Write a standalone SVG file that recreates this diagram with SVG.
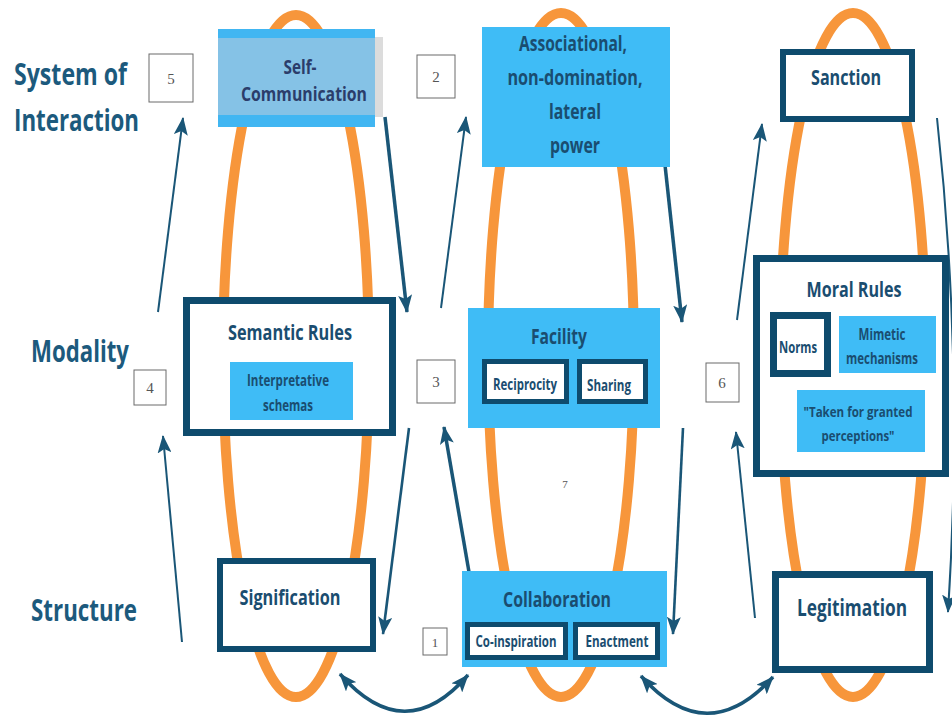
<svg xmlns="http://www.w3.org/2000/svg" width="952" height="718" viewBox="0 0 952 718">
<defs>
<marker id="ah" viewBox="0 0 18 14" refX="17" refY="7" markerWidth="18" markerHeight="14" markerUnits="userSpaceOnUse" orient="auto-start-reverse">
<path d="M0,0 L18,7 L0,14 L4,7 z" fill="#1a5677"/>
</marker>
<style>
.loop{fill:none;stroke:#f7963b;stroke-width:10}
.con{fill:none;stroke:#1a5677;stroke-width:2}
.thk{stroke-width:3.5}
.med{stroke-width:2.6}
.lbl{font-family:"Open Sans","Liberation Sans",sans-serif;font-weight:700;font-size:30px;fill:#1c5a7d}
.t{font-family:"Open Sans","Liberation Sans",sans-serif;font-weight:700;fill:#1a4d70;text-anchor:middle}
.t22{font-size:22px}
.t20{font-size:20px}
.t16{font-size:16px}
.t15{font-size:15px}
.blue{fill:#3fbcf6}
.wbox{fill:#fff;stroke:#0e4b6d}
.num{fill:#fff;stroke:#6a6a6a;stroke-width:1}
.nt{font-family:"Liberation Serif",serif;font-size:15px;fill:#555;text-anchor:middle}
</style>
</defs>
<rect width="952" height="718" fill="#fff"/>

<g id="loops">
<ellipse class="loop" cx="296" cy="356" rx="73" ry="341"/>
<ellipse class="loop" cx="561" cy="355" rx="73" ry="342"/>
<ellipse class="loop" cx="853" cy="355" rx="73" ry="342"/>
</g>

<g id="row-labels">
<text class="lbl" x="14" y="85" textLength="113" lengthAdjust="spacingAndGlyphs">System of</text>
<text class="lbl" x="14" y="131" textLength="125" lengthAdjust="spacingAndGlyphs">Interaction</text>
<text class="lbl" x="31" y="362" textLength="98" lengthAdjust="spacingAndGlyphs">Modality</text>
<text class="lbl" x="31" y="621" textLength="106" lengthAdjust="spacingAndGlyphs">Structure</text>
</g>

<g id="connectors">
<path class="con" d="M182,642 L163,436" marker-end="url(#ah)"/>
<path class="con" d="M158,312 L183,118" marker-end="url(#ah)"/>
<path class="con thk" d="M385,117 L407,312" marker-end="url(#ah)"/>
<path class="con" d="M441,308 L466,117" marker-end="url(#ah)"/>
<path class="con med" d="M409,428 L383,634" marker-end="url(#ah)"/>
<path class="con thk" d="M469,572 L444,427" marker-end="url(#ah)"/>
<path class="con thk" d="M661,128 L682,322" marker-end="url(#ah)"/>
<path class="con" d="M737,320 L762,124" marker-end="url(#ah)"/>
<path class="con med" d="M683,428 L673,634" marker-end="url(#ah)"/>
<path class="con" d="M755,618 L736,432" marker-end="url(#ah)"/>
<path class="con" d="M937,118 Q964,365 948,612" marker-end="url(#ah)"/>
<path class="con thk" d="M340,674 Q405,748 468,675" marker-start="url(#ah)" marker-end="url(#ah)"/>
<path class="con thk" d="M641,676 Q707,750 773,677" marker-start="url(#ah)" marker-end="url(#ah)"/>
</g>

<g id="num5"><rect class="num" x="149" y="54" width="44" height="48"/><text class="nt" x="171" y="84">5</text></g>
<g id="num2"><rect class="num" x="417" y="55" width="38" height="43"/><text class="nt" x="436" y="82">2</text></g>
<g id="num4"><rect class="num" x="134" y="370" width="32" height="35"/><text class="nt" x="150" y="393">4</text></g>
<g id="num3"><rect class="num" x="417" y="360" width="38" height="43"/><text class="nt" x="436" y="387">3</text></g>
<g id="num6"><rect class="num" x="706" y="363" width="33" height="39"/><text class="nt" x="722" y="388">6</text></g>
<g id="num1"><rect class="num" x="423" y="628" width="24" height="27"/><text class="nt" x="435" y="647" style="font-size:13px">1</text></g>
<g id="num7"><text class="nt" x="565" y="488" style="font-size:11px">7</text></g>

<g id="self-communication">
<rect x="375" y="37" width="8" height="80" fill="#dcdcdc"/>
<rect x="218" y="29" width="157" height="98" fill="#41b6f2"/>
<rect x="218" y="38" width="157" height="77" fill="#85c2e6"/>
<text class="t t20" x="300" y="74" textLength="33" lengthAdjust="spacingAndGlyphs" style="fill:#2b3d6b">Self-</text>
<text class="t t20" x="304" y="101" textLength="126" lengthAdjust="spacingAndGlyphs" style="fill:#2b3d6b">Communication</text>
</g>

<g id="associational">
<rect class="blue" x="482" y="27" width="188" height="140"/>
<text class="t t22" x="573" y="51" textLength="108" lengthAdjust="spacingAndGlyphs">Associational,</text>
<text class="t t22" x="575" y="85" textLength="135" lengthAdjust="spacingAndGlyphs">non-domination,</text>
<text class="t t22" x="575" y="119" textLength="52" lengthAdjust="spacingAndGlyphs">lateral</text>
<text class="t t22" x="575" y="153" textLength="50" lengthAdjust="spacingAndGlyphs">power</text>
</g>

<g id="sanction">
<rect class="wbox" x="783" y="52" width="129" height="67" stroke-width="6"/>
<text class="t t22" x="846" y="85" textLength="70" lengthAdjust="spacingAndGlyphs">Sanction</text>
</g>

<g id="semantic-rules">
<rect class="wbox" x="186.5" y="300.5" width="206" height="132" stroke-width="7"/>
<text class="t t22" x="290" y="340" textLength="124" lengthAdjust="spacingAndGlyphs">Semantic Rules</text>
<rect class="blue" x="230" y="362" width="123" height="58"/>
<text class="t t16" x="288" y="386" textLength="82" lengthAdjust="spacingAndGlyphs">Interpretative</text>
<text class="t t16" x="288" y="411" textLength="50" lengthAdjust="spacingAndGlyphs">schemas</text>
</g>

<g id="facility">
<rect class="blue" x="468" y="308" width="192" height="120"/>
<text class="t t22" x="559" y="344" textLength="56" lengthAdjust="spacingAndGlyphs">Facility</text>
<rect class="wbox" x="484.5" y="361.5" width="82" height="40" stroke-width="5"/>
<text class="t t16" x="525" y="390" textLength="64" lengthAdjust="spacingAndGlyphs">Reciprocity</text>
<rect class="wbox" x="579.5" y="361.5" width="66" height="40" stroke-width="5"/>
<text class="t t16" x="609" y="391" textLength="44" lengthAdjust="spacingAndGlyphs">Sharing</text>
</g>

<g id="moral-rules">
<rect class="wbox" x="756.5" y="258.5" width="189" height="215" stroke-width="7"/>
<text class="t t22" x="854" y="297" textLength="95" lengthAdjust="spacingAndGlyphs">Moral Rules</text>
<rect class="wbox" x="773.5" y="315.5" width="54" height="58" stroke-width="7"/>
<text class="t t16" x="798" y="353" textLength="38" lengthAdjust="spacingAndGlyphs">Norms</text>
<rect class="blue" x="839" y="316" width="97" height="57"/>
<text class="t t16" x="882" y="340" textLength="47" lengthAdjust="spacingAndGlyphs">Mimetic</text>
<text class="t t16" x="882" y="364" textLength="72" lengthAdjust="spacingAndGlyphs">mechanisms</text>
<rect class="blue" x="797" y="390" width="128" height="62"/>
<text class="t t15" x="858" y="417" textLength="109" lengthAdjust="spacingAndGlyphs">"Taken for granted</text>
<text class="t t15" x="858" y="441" textLength="73" lengthAdjust="spacingAndGlyphs">perceptions"</text>
</g>

<g id="signification">
<rect class="wbox" x="220" y="561" width="153" height="88" stroke-width="6"/>
<text class="t t22" x="290" y="605" textLength="101" lengthAdjust="spacingAndGlyphs">Signification</text>
</g>

<g id="collaboration">
<rect class="blue" x="462" y="571" width="205" height="96"/>
<text class="t t22" x="557" y="607" textLength="108" lengthAdjust="spacingAndGlyphs">Collaboration</text>
<rect class="wbox" x="467.5" y="624.5" width="98" height="33" stroke-width="5"/>
<text class="t t16" x="516" y="647" textLength="81" lengthAdjust="spacingAndGlyphs">Co-inspiration</text>
<rect class="wbox" x="575.5" y="624.5" width="82" height="33" stroke-width="5"/>
<text class="t t16" x="617" y="647" textLength="63" lengthAdjust="spacingAndGlyphs">Enactment</text>
</g>

<g id="legitimation">
<rect class="wbox" x="775.5" y="574.5" width="154" height="95" stroke-width="7"/>
<text class="t" x="852" y="616" style="font-size:24px" textLength="110" lengthAdjust="spacingAndGlyphs">Legitimation</text>
</g>
</svg>
